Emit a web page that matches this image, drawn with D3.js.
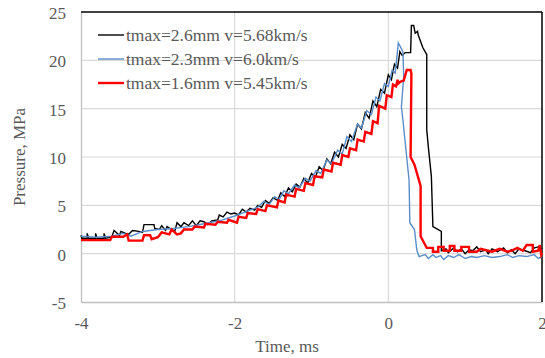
<!DOCTYPE html>
<html><head><meta charset="utf-8">
<script src="https://cdn.jsdelivr.net/npm/d3@7"></script>
<style>
body{margin:0;background:#fff;}
svg{display:block;}
svg text{font-family:"Liberation Serif","Times New Roman","DejaVu Serif",serif !important;fill:#595959;}
</style></head>
<body><svg id="c" width="545" height="358"></svg>
<script>
const xTicks = [-4, -2, 0, 2];
const yTicks = [-5, 0, 5, 10, 15, 20, 25];
const seriesNames = ["tmax=2.6mm v=5.68km/s", "tmax=2.3mm v=6.0km/s", "tmax=1.6mm v=5.45km/s"];
const seriesColors = ["#000000", "#5b8dc9", "#ff0000"];

// black: tmax=2.6mm
const black = [
[-4.00,1.9],[-3.99,1.6],[-3.92,1.6],[-3.92,2.1],[-3.90,1.6],[-3.81,1.6],[-3.81,2.1],[-3.79,1.6],[-3.70,1.6],[-3.70,2.1],[-3.68,1.6],
[-3.60,1.7],[-3.57,2.4],[-3.50,1.9],[-3.48,2.3],[-3.42,2.1],[-3.38,2.0],[-3.33,2.4],[-3.25,2.3],[-3.20,2.2],[-3.18,3.0],[-3.05,3.0],
[-3.04,2.6],[-2.98,2.5],[-2.95,2.9],[-2.90,2.4],[-2.88,2.8],[-2.82,2.5],[-2.78,2.3],[-2.75,3.2],[-2.70,2.8],[-2.66,3.2],[-2.60,2.9],
[-2.55,3.4],[-2.50,2.9],[-2.45,3.4],[-2.40,3.3],[-2.35,3.0],[-2.30,3.4],[-2.22,3.5],[-2.20,4.0],[-2.15,3.8],[-2.10,4.3],[-2.05,4.1],
[-2.00,4.2],[-1.95,4.0],[-1.90,4.6],[-1.85,4.3],[-1.80,4.7],[-1.74,4.5],[-1.70,5.0],[-1.65,4.8],[-1.60,5.5],[-1.55,5.2],[-1.50,5.8],
[-1.44,5.5],[-1.40,6.3],[-1.35,5.9],[-1.30,6.8],[-1.25,6.4],[-1.20,7.2],[-1.15,6.9],[-1.10,7.8],[-1.05,7.3],[-1.00,8.3],[-0.95,7.9],
[-0.90,9.0],[-0.85,8.6],[-0.80,9.8],[-0.75,9.3],[-0.70,10.5],[-0.65,10.0],[-0.60,11.3],[-0.55,10.9],[-0.50,12.3],[-0.45,11.8],
[-0.40,13.4],[-0.35,12.9],[-0.30,14.6],[-0.25,14.0],[-0.20,15.8],[-0.15,15.2],[-0.10,17.0],[-0.05,16.6],[0.00,18.5],[0.04,18.0],
[0.08,19.6],[0.12,19.2],[0.15,20.9],[0.18,20.5],[0.22,20.8],[0.29,20.8],[0.30,23.6],[0.33,23.6],[0.35,22.8],[0.38,23.0],[0.39,22.6],
[0.45,21.3],[0.50,20.6],[0.50,12.8],[0.52,11.1],[0.56,8.0],[0.58,2.8],[0.69,2.3],[0.69,0.3],[0.75,0.5],[0.78,0.1],[0.85,0.6],
[0.90,0.2],[0.95,0.5],[1.00,0.0],[1.05,0.4],[1.10,0.3],[1.15,0.7],[1.20,0.2],[1.27,0.4],[1.30,0.0],[1.35,0.5],[1.42,0.2],[1.50,0.6],
[1.55,0.1],[1.60,0.4],[1.65,0.0],[1.70,0.5],[1.78,0.3],[1.85,0.1],[1.90,0.6],[1.95,0.7],[2.00,0.5]
];
// blue: tmax=2.3mm
const blue = [
[-4.00,1.8],[-3.80,1.7],[-3.60,1.8],[-3.45,2.1],[-3.35,1.8],[-3.20,2.3],[-3.00,2.5],[-2.80,2.6],[-2.60,2.8],[-2.40,3.1],[-2.20,3.4],
[-2.00,3.9],[-1.90,4.2],[-1.80,4.5],[-1.70,4.8],[-1.62,5.4],[-1.55,5.1],[-1.48,5.9],[-1.42,5.6],[-1.36,6.5],[-1.30,6.2],[-1.22,7.1],
[-1.16,6.8],[-1.08,7.8],[-1.02,7.5],[-0.94,8.6],[-0.88,8.3],[-0.80,9.7],[-0.74,9.3],[-0.66,10.7],[-0.60,10.3],[-0.54,12.1],[-0.48,11.6],
[-0.40,13.4],[-0.35,13.0],[-0.28,14.8],[-0.22,14.4],[-0.16,16.2],[-0.11,15.8],[-0.05,17.6],[0.00,17.3],[0.05,19.0],[0.09,18.7],
[0.13,21.8],[0.19,20.9],[0.20,18.3],[0.17,15.2],[0.19,13.8],[0.27,7.6],[0.28,3.2],[0.34,2.5],[0.37,0.4],[0.40,-0.3],[0.48,-0.1],
[0.52,-0.5],[0.58,-0.1],[0.62,-0.4],[0.68,-0.2],[0.72,-0.6],[0.78,-0.2],[0.85,-0.4],[0.92,-0.1],[1.00,-0.5],[1.08,-0.3],[1.15,-0.4],
[1.25,-0.2],[1.35,-0.4],[1.45,-0.3],[1.55,-0.1],[1.62,-0.4],[1.70,-0.2],[1.80,-0.3],[1.90,-0.1],[1.95,-0.5],[2.00,-0.3]
];
// red: tmax=1.6mm
const red = [
[-4.00,1.40],[-3.62,1.40],[-3.60,1.75],[-3.45,1.75],[-3.40,2.0],[-3.38,1.35],[-3.20,1.35],[-3.18,1.9],[-3.10,1.9],[-3.08,1.5],
[-3.00,1.7],[-2.95,2.2],[-2.85,2.0],[-2.82,2.5],[-2.75,2.0],[-2.70,2.1],[-2.66,2.5],[-2.55,2.5],[-2.52,2.8],[-2.40,2.7],[-2.38,3.1],
[-2.25,3.0],[-2.22,3.3],[-2.10,3.2],[-2.08,3.5],[-1.97,3.2],[-1.95,3.8],[-1.85,3.7],[-1.83,4.2],[-1.72,4.1],[-1.70,4.6],[-1.60,4.4],
[-1.58,5.0],[-1.45,4.8],[-1.43,5.5],[-1.35,5.3],[-1.33,6.1],[-1.22,5.9],[-1.20,6.7],[-1.10,6.5],[-1.08,7.3],[-0.98,7.1],[-0.96,8.0],
[-0.86,7.9],[-0.84,8.7],[-0.74,8.5],[-0.72,9.4],[-0.62,9.2],[-0.60,10.2],[-0.52,10.0],[-0.50,10.9],[-0.42,10.7],[-0.40,11.8],
[-0.32,11.6],[-0.30,12.6],[-0.22,12.4],[-0.20,13.7],[-0.14,13.5],[-0.12,15.3],[-0.04,15.0],[-0.02,16.4],[0.04,16.2],[0.06,17.5],
[0.10,17.3],[0.12,18.0],[0.13,17.6],[0.16,17.8],[0.20,17.9],[0.24,19.0],[0.29,19.0],[0.30,18.6],[0.29,10.0],[0.34,9.2],[0.42,7.0],
[0.42,1.8],[0.48,0.9],[0.50,0.6],[0.58,0.6],[0.58,0.2],[0.65,0.2],[0.65,0.7],[0.72,0.7],[0.72,0.3],[0.80,0.3],[0.80,0.8],[0.86,0.8],
[0.86,0.3],[0.95,0.3],[0.95,0.7],[1.05,0.7],[1.05,0.2],[1.15,0.2],[1.20,0.5],[1.30,0.3],[1.35,0.2],[1.45,0.5],[1.55,0.2],[1.60,0.3],
[1.68,0.6],[1.75,0.3],[1.80,0.9],[1.88,0.9],[1.88,0.2],[1.95,0.3],[1.97,0.9],[1.99,-0.1],[2.00,0.1]
];
const seriesData = [black, blue, red];
const seriesWidths = [1.4, 1.4, 2.4];
const FONT = '"Liberation Serif", "Times New Roman", "DejaVu Serif", serif';

const svg = d3.select("#c");
const x = d3.scaleLinear().domain([-4, 2]).range([81, 542]);
const y = d3.scaleLinear().domain([-5, 25]).range([302, 12]);

// gridlines
svg.append("g").selectAll("line").data(yTicks.filter(v => v > -5 && v < 25)).join("line")
  .attr("x1", x(-4)).attr("x2", x(2)).attr("y1", d => y(d)).attr("y2", d => y(d))
  .attr("stroke", "#d9d9d9").attr("stroke-width", 1.2);
svg.append("g").selectAll("line").data(xTicks.filter(v => v > -4 && v < 2)).join("line")
  .attr("y1", y(-5)).attr("y2", y(25)).attr("x1", d => x(d)).attr("x2", d => x(d))
  .attr("stroke", "#d9d9d9").attr("stroke-width", 1.2);

// axes
const fmt = d => String(d);
const ax = svg.append("g").attr("transform", `translate(0,${y(-5)})`)
  .call(d3.axisBottom(x).tickValues(xTicks).tickSize(0).tickPadding(15).tickFormat(fmt));
const ay = svg.append("g").attr("transform", `translate(${x(-4)},0)`)
  .call(d3.axisLeft(y).tickValues(yTicks).tickSize(0).tickPadding(15).tickFormat(fmt));
[ax, ay].forEach(g => {
  g.attr("font-family", FONT).attr("font-size", 17);
  g.select(".domain").attr("stroke", "#bfbfbf").attr("stroke-width", 1.3);
  g.selectAll("text").attr("font-family", FONT).attr("font-size", 17).attr("fill", "#595959");
});
ax.selectAll("text").attr("dy", "0.71em");
ay.selectAll("text").attr("dy", "0.38em");

// top and right borders
svg.append("line").attr("x1", x(-4)).attr("x2", x(2)).attr("y1", y(25)).attr("y2", y(25)).attr("stroke", "#000").attr("stroke-width", 1.5);
svg.append("line").attr("x1", x(2)).attr("x2", x(2)).attr("y1", y(25)).attr("y2", y(-5)).attr("stroke", "#000").attr("stroke-width", 1.5);

// series
const line = d3.line().x(d => x(d[0])).y(d => y(d[1]));
seriesData.forEach((s, i) => {
  svg.append("path").datum(s).attr("d", line).attr("fill", "none")
    .attr("stroke", seriesColors[i]).attr("stroke-width", seriesWidths[i]).attr("stroke-linejoin", "miter");
});

// axis titles
svg.append("text").attr("x", 287).attr("y", 352).attr("text-anchor", "middle")
  .attr("font-family", FONT).attr("font-size", 17).text("Time, ms");
svg.append("text").attr("transform", "translate(25,157) rotate(-90)").attr("text-anchor", "middle")
  .attr("font-family", FONT).attr("font-size", 17).text("Pressure, MPa");

// legend
const lg = svg.append("g");
const legY = [35, 59, 83];
seriesNames.forEach((n, i) => {
  lg.append("line").attr("x1", 98).attr("x2", 124).attr("y1", legY[i]).attr("y2", legY[i])
    .attr("stroke", seriesColors[i]).attr("stroke-width", seriesWidths[i]);
  lg.append("text").attr("x", 126).attr("y", legY[i] + 6)
    .attr("font-family", FONT).attr("font-size", 17.5).text(n);
});
</script></body></html>
